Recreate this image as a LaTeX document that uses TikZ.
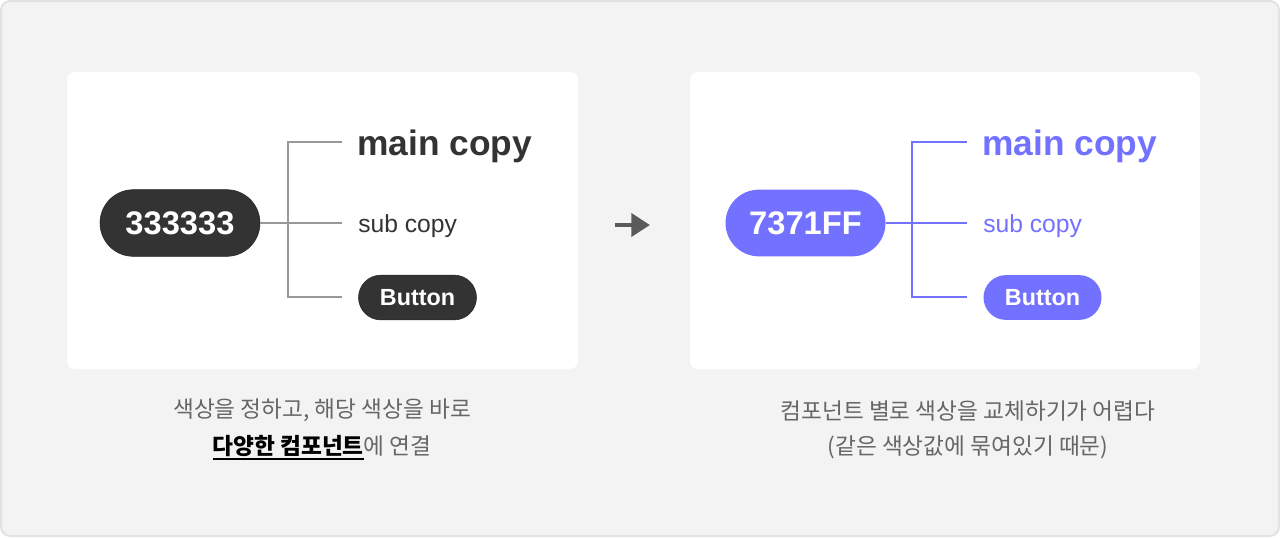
\documentclass[tikz,border=0pt]{standalone}
\usepackage{fontspec}
\setmainfont{Liberation Sans}[BoldFont = {Liberation Sans Bold}]
\newfontfamily\kofont{Noto Sans CJK KR}
\usetikzlibrary{arrows.meta}
\definecolor{canvas}{HTML}{F3F3F3}
\definecolor{canvasline}{HTML}{E2E2E2}
\definecolor{ink}{HTML}{333333}
\definecolor{treegray}{HTML}{999999}
\definecolor{violet}{HTML}{7371FF}
\definecolor{capgray}{HTML}{666666}
\definecolor{arrowgray}{HTML}{5A5A5A}
\newcommand\thickul[1]{\leavevmode\vtop{\hbox{#1}\kern1.5pt\hrule height 1.5pt}}

\begin{document}
\begin{tikzpicture}[x=0.75pt, y=-0.75pt,
    card/.style = {fill = white, rounded corners = 6pt},
    colorpill/.style = {rounded corners = 25pt, minimum width = 120pt, minimum height = 50pt, inner sep = 0pt, text = white, font = \bfseries\fontsize{24.5}{24.5}\selectfont},
    btnpill/.style = {rounded corners = 16.8pt, minimum width = 88.5pt, minimum height = 33.6pt, inner sep = 0pt, text = white, font = \bfseries\fontsize{17.5}{17.5}\selectfont},
    maincopy/.style = {anchor = base west, inner sep = 0pt, font = \bfseries\fontsize{26.5}{26.5}\selectfont},
    subcopy/.style = {anchor = base west, inner sep = 0pt, font = \fontsize{18.5}{18.5}\selectfont},
    caption/.style = {inner sep = 0pt, text = capgray, font = \kofont\fontsize{17}{17}\selectfont},
    tree/.style = {line width = 1.5pt}]
        \useasboundingbox (0,0) rectangle (1280,537);
        \draw[fill = canvas, draw = canvasline, line width = 1.5pt, rounded corners = 7pt] (1,1) rectangle (1279,536);

        \fill[card] (67,72) rectangle (578,369);
        \fill[card] (690,72) rectangle (1200,369);

        % left card
        \node[colorpill, fill = ink, draw = black!85] (lpill) at (180,223) {333333};
        \node[maincopy, text = ink] (lmain) at (357,155) {main copy};
        \node[subcopy, text = ink] (lsub) at (358,232) {sub copy};
        \node[btnpill, fill = ink, draw = black!85] (lbtn) at (417.5,297.5) {Button};

        \coordinate (ltop) at (288,142);
        \coordinate (lmid) at (342,223);
        \coordinate (lbot) at (288,297);
        \draw[tree, treegray] (ltop -| lmid) -- (ltop) -- (lbot) -- (lbot -| lmid);
        \draw[tree, treegray] (lpill.east) -- (lmid);

        % right card
        \node[colorpill, fill = violet] (rpill) at (805.5,223) {7371FF};
        \node[maincopy, text = violet] (rmain) at (982,155) {main copy};
        \node[subcopy, text = violet] (rsub) at (983,232) {sub copy};
        \node[btnpill, fill = violet] (rbtn) at (1042.5,297.5) {Button};

        \coordinate (rtop) at (912,142);
        \coordinate (rmid) at (967,223);
        \coordinate (rbot) at (912,297);
        \draw[tree, violet] (rtop -| rmid) -- (rtop) -- (rbot) -- (rbot -| rmid);
        \draw[tree, violet] (rpill.east) -- (rmid);

        \coordinate (arrfrom) at (615,225);
        \coordinate (arrto) at (650,225);
        \draw[arrowgray, line width = 3.5pt, -{Triangle[length = 14pt, width = 17pt]}] (arrfrom) -- (arrto);

        % captions
        \node[caption] (lcap1) at (322,410) {색상을 정하고, 해당 색상을 바로};
        \node[caption, anchor = base] (lcap2) at (322,454) {{\color{black}\bfseries\thickul{다양한 컴포넌트}}에 연결};
        \node[caption] (rcap1) at (968,411) {컴포넌트 별로 색상을 교체하기가 어렵다};
        \node[caption] (rcap2) at (968,447) {(같은 색상값에 묶여있기 때문)};
\end{tikzpicture}
\end{document}
